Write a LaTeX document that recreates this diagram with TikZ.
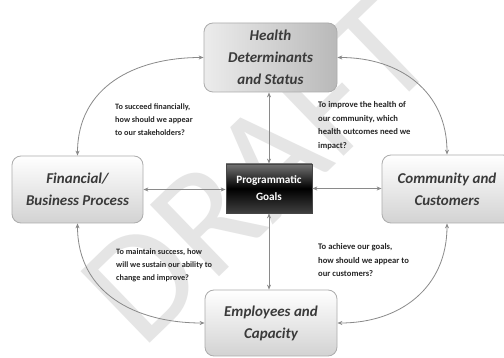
\documentclass[tikz,border=0pt]{standalone}
\usepackage{fontspec}
\setmainfont{Carlito}
\newfontfamily\wmfont{Carlito}
\usetikzlibrary{arrows.meta}
\definecolor{boxtext}{HTML}{3A3A3A}
\definecolor{edge}{HTML}{8A8A8A}
\definecolor{qtext}{HTML}{262626}
\tikzset{
  box/.style={draw=gray!65, line width=0.8pt, rounded corners=9pt, align=center, inner sep=0pt,
    font=\bfseries\itshape\fontsize{15}{22}\selectfont, text=boxtext},
  vshade/.style={top color=white, bottom color=gray!35},
  goalbox/.style={draw=gray!55!black, line width=0.8pt, align=center, inner sep=0pt,
    top color=black!55, bottom color=black!75, middle color=black,
    font=\bfseries\fontsize{11.2}{17}\selectfont, text=white},
  question/.style={align=left, anchor=north west, inner sep=0pt, text=qtext},
  qsmall/.style={question, font=\bfseries\fontsize{8.2}{12.6}\selectfont},
  qbig/.style={question, font=\bfseries\fontsize{8.6}{13.8}\selectfont},
  link/.style={draw=edge, line width=0.8pt, {Stealth[length=5pt,width=4pt]}-{Stealth[length=5pt,width=4pt]}},
  watermark/.style={rotate=44, text=gray!20, font=\wmfont\fontsize{155}{155}\selectfont, inner sep=0pt}
}
\begin{document}
\begin{tikzpicture}[x=1pt,y=-1pt]
\useasboundingbox (0,0) rectangle (504,358);
\fill[white] (0,0) rectangle (504,358);
% watermark
\node[watermark] (wm) at (258,170) {DRAFT};
% boxes
\node[box, minimum width=133pt, minimum height=69pt, left color=gray!15, right color=gray!55] (health) at (270.5,57.5) {Health\\Determinants\\and Status};
\node[box, vshade, minimum width=131pt, minimum height=67pt] (fin) at (77.5,189.5) {Financial/\\Business Process};
\node[box, vshade, minimum width=130pt, minimum height=68pt] (comm) at (447,189) {Community and\\Customers};
\node[box, vshade, minimum width=132pt, minimum height=66pt] (emp) at (271,323) {Employees and\\Capacity};
\node[goalbox, minimum width=86pt, minimum height=49pt] (goals) at (269,188.5) {Programmatic\\Goals};
% straight links
\draw[link] (health.south -| goals.north) -- (goals.north);
\draw[link] (goals.south) -- (goals.south |- emp.north);
\draw[link] (fin.east) -- (goals.west |- fin.east);
\draw[link] (goals.east) -- (comm.west |- goals.east);
% arcs
\draw[link] (health.west) to[out=180,in=90,looseness=1.1] (fin.north);
\draw[link] (health.east) to[out=0,in=90,looseness=1.1] (comm.north);
\draw[link] (emp.west) to[out=180,in=-90,looseness=1.1] (fin.south);
\draw[link] (emp.east) to[out=0,in=-90,looseness=1.1] (comm.south);
% questions
\node[qsmall] (q1) at (115,104) {To succeed financially,\\how should we appear\\to our stakeholders?};
\node[qbig] (q2) at (318,101) {To improve the health of\\our community, which\\health outcomes need we\\impact?};
\node[qsmall] (q3) at (116,249) {To maintain success, how\\will we sustain our ability to\\change and improve?};
\node[qbig] (q4) at (318,243) {To achieve our goals,\\how should we appear to\\our customers?};
\end{tikzpicture}
\end{document}
